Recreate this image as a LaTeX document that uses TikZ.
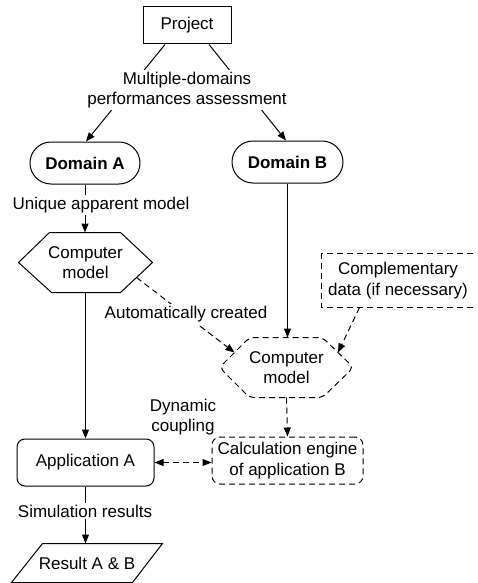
\documentclass[tikz,border=0pt]{standalone}
\usepackage{fontspec}
\setmainfont{Liberation Sans}
\usetikzlibrary{arrows.meta,calc}
\begin{document}
\begin{tikzpicture}[x=1pt,y=-1pt,
  line width=1pt,
  txt/.style={font=\fontsize{17}{20.5}\selectfont, align=center, inner sep=0pt},
  box/.style={txt, draw},
  arr/.style={-{Triangle[length=9pt,width=7pt]}},
  dsh/.style={dash pattern=on 6pt off 4pt},
  lbl/.style={txt, fill=white, inner sep=2pt},
]
\useasboundingbox (0,0) rectangle (477,583);
\clip (0,0) rectangle (477,583);

% boxes
\node[box, minimum width=88, minimum height=37] (proj) at (187,25.5) {Project};
\node[box, rounded corners=21, minimum width=110, minimum height=42,
      font=\fontsize{17}{20.5}\selectfont\bfseries] (domA) at (85,163) {Domain A};
\node[box, rounded corners=21, minimum width=111, minimum height=42,
      font=\fontsize{17}{20.5}\selectfont\bfseries] (domB) at (287.5,162) {Domain B};

% hexagon: computer model of domain A
\node[txt, minimum width=133, minimum height=59] (cmA) at (85.5,262.5) {Computer\\model};
\coordinate (cmAnw) at ($(cmA.north west)+(31,0)$);
\coordinate (cmAne) at ($(cmA.north east)+(-32,0)$);
\coordinate (cmAse) at ($(cmA.south east)+(-32,0)$);
\coordinate (cmAsw) at ($(cmA.south west)+(33,0)$);
\draw (cmA.west) -- (cmAnw) -- (cmAne) -- (cmA.east) -- (cmAse) -- (cmAsw) -- cycle;

% dashed hexagon: computer model of domain B
\node[txt, minimum width=133, minimum height=59] (cmB) at (286.5,367.5) {Computer\\model};
\coordinate (cmBnw) at ($(cmB.north west)+(30,0)$);
\coordinate (cmBne) at ($(cmB.north east)+(-31,0)$);
\coordinate (cmBse) at ($(cmB.south east)+(-31,0)$);
\coordinate (cmBsw) at ($(cmB.south west)+(30,0)$);
\draw[dsh, rounded corners=5] (cmB.west) -- (cmBnw) -- (cmBne) -- (cmB.east) -- (cmBse) -- (cmBsw) -- cycle;

% dashed box running off the right edge
\node[txt, minimum width=152, minimum height=53] (comp) at (398,280.5)
  {Complementary\\data (if necessary)};
\draw[dsh] ($(comp.north east)+(8,0)$) -- (comp.north west) -- (comp.south west)
  -- ($(comp.south east)+(8,0)$);

\node[box, dsh, rounded corners=8, minimum width=151, minimum height=47] (calc) at (287.5,460.5)
  {Calculation engine\\of application B};
\node[box, rounded corners=8, minimum width=137, minimum height=47] (appA) at (85.5,462.5)
  {Application A};

% parallelogram: results
\node[txt, minimum width=150, minimum height=38] (res) at (87,563) {Result A \& B};
\draw ($(res.north west)+(31,0)$) -- (res.north east) -- ($(res.south east)+(-30,0)$)
  -- (res.south west) -- cycle;

% connectors
\draw[arr] ([xshift=-22]proj.south) -- ([xshift=1]domA.north);
\draw[arr] ([xshift=22]proj.south) -- ([xshift=-1.5]domB.north);
\node[lbl] (ma) at (187,90) {Multiple-domains\\performances assessment};

\draw[arr] (domA.south) -- (domA.south |- cmA.north);
\node[lbl] (uam) at (101,205) {Unique apparent model};

\draw[arr] (cmA.south) -- (cmA.south |- appA.north);
\draw[arr] (domB.south) -- (domB.south |- cmB.north);

\draw[arr, dsh] ($(cmA.east)!0.5!(cmAse)$) -- ($(cmB.west)!0.5!(cmBnw)$);
\node[lbl] (auto) at (186,314) {Automatically created};

\draw[arr, dsh] ([xshift=38]comp.south west) -- ($(cmB.east)!0.5!(cmBne)$);
\draw[arr, dsh] (cmB.south) -- (calc.north);

\draw[{Triangle[length=9pt,width=7pt]}-{Triangle[length=9pt,width=7pt]}, dsh]
  (appA.east) -- (appA.east -| calc.west);
\node[txt] (dyn) at (183,417) {Dynamic\\coupling};

\draw[arr] (appA.south) -- (appA.south |- res.north);
\node[lbl] (sim) at (85,511) {Simulation results};
\end{tikzpicture}
\end{document}
